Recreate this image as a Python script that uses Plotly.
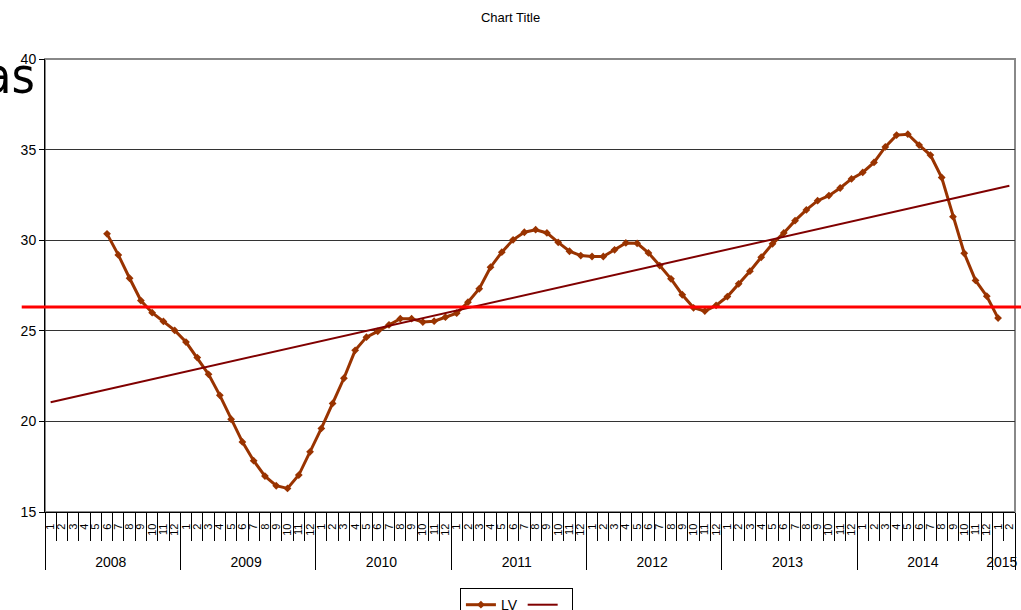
import plotly.graph_objects as go

# ---- data ----
years = ["2008", "2009", "2010", "2011", "2012", "2013", "2014", "2015"]
months_per_year = [12, 12, 12, 12, 12, 12, 12, 2]
month_labels = [str(m) for m in range(1, 13)]

# LV series, monthly from 2008-6 to 2015-1
lv_start = ("2008", "6")
lv_values = [
    30.35, 29.19, 27.90, 26.67, 26.00, 25.52, 25.02,              # 2008 6-12
    24.38, 23.52, 22.60, 21.44, 20.12, 18.87, 17.83, 16.98, 16.45, 16.30, 17.04, 18.32,  # 2009
    19.61, 20.99, 22.38, 23.92, 24.65, 24.97, 25.33, 25.67, 25.67, 25.48, 25.53, 25.75,  # 2010
    25.97, 26.58, 27.32, 28.51, 29.34, 30.02, 30.44, 30.58, 30.40, 29.88, 29.39, 29.15,  # 2011
    29.10, 29.10, 29.47, 29.85, 29.83, 29.30, 28.60, 27.87, 26.99, 26.27, 26.09, 26.40,  # 2012
    26.89, 27.59, 28.29, 29.06, 29.80, 30.40, 31.08, 31.67, 32.18, 32.46, 32.88, 33.38,  # 2013
    33.74, 34.29, 35.15, 35.80, 35.85, 35.25, 34.70, 33.46, 31.30, 29.28, 27.78, 26.91,  # 2014
    25.70,                                                         # 2015 1
]

# linear trend line: values at first and last category
trend_values = [21.06, 33.00]

# horizontal reference level
reference_level = 26.32

# ---- build category axis ----
NB = "\u00a0"
year_disp = {y: f"<span style='font-size:14px'>{y}</span>" for y in years}
month_disp = {m: NB * 3 + m + NB * 2 for m in month_labels}

keys = []
cat_years, cat_months = [], []
for y, n in zip(years, months_per_year):
    for m in month_labels[:n]:
        keys.append((y, m))
        cat_years.append(year_disp[y])
        cat_months.append(month_disp[m])

start_idx = keys.index(lv_start)
lv_full = [None] * len(keys)
for k, v in enumerate(lv_values):
    lv_full[start_idx + k] = v

fig = go.Figure()
fig.add_trace(go.Scatter(
    x=[cat_years, cat_months], y=lv_full, name="LV",
    mode="lines+markers",
    line=dict(color="#993300", width=3),
    marker=dict(symbol="diamond", size=6, color="#993300"),
    connectgaps=False,
))
fig.add_trace(go.Scatter(
    x=[[cat_years[0], cat_years[-1]], [cat_months[0], cat_months[-1]]],
    y=trend_values, name=" ",
    mode="lines",
    line=dict(color="#800000", width=2),
))

fig.add_shape(type="line", xref="paper", yref="y",
              x0=-0.024, x1=1.01, y0=reference_level, y1=reference_level,
              line=dict(color="#FF0000", width=3), layer="above")

fig.add_annotation(text="as", xref="paper", yref="paper",
                   x=-0.008, y=0.963, xanchor="right", yanchor="middle",
                   showarrow=False,
                   font=dict(family="DejaVu Sans Condensed, Liberation Sans Narrow, DejaVu Sans",
                             size=50, color="black"))

fig.update_layout(
    width=1021, height=610,
    paper_bgcolor="white", plot_bgcolor="white",
    margin=dict(l=45, r=6, t=59, b=98, autoexpand=False),
    title=dict(text="Chart Title", x=0.5, xanchor="center", y=0.972, yanchor="middle",
               font=dict(family="Liberation Sans, Arial", size=13, color="black")),
    font=dict(family="Liberation Sans, Arial", color="black"),
    showlegend=True,
    legend=dict(orientation="h", x=0.486, xanchor="center", y=-0.168, yanchor="top",
                bordercolor="black", borderwidth=1, bgcolor="white",
                font=dict(size=14), itemwidth=30),
)

fig.update_yaxes(range=[15, 40], dtick=5, showgrid=True, gridcolor="#333333", gridwidth=1,
                 showline=True, linecolor="black", linewidth=1,
                 ticks="outside", ticklen=5, tickcolor="black",
                 tickfont=dict(size=14), zeroline=False, automargin=False)
fig.update_xaxes(type="multicategory", showgrid=False, range=[-0.5, len(keys) - 0.5],
                 showline=True, linecolor="black", linewidth=1,
                 ticks="outside", ticklen=28, tickcolor="black",
                 tickangle=-90, tickfont=dict(size=11), dtick=1,
                 showdividers=True, dividercolor="black", dividerwidth=1,
                 automargin=False)

# plot-area border on top/right in gray
fig.add_shape(type="rect", xref="paper", yref="paper", x0=0, x1=1, y0=0, y1=1,
              line=dict(color="#888888", width=2), layer="below")

fig.write_html("out.html",
               config={"displayModeBar": False},
               post_script="document.body.style.margin='0';document.body.style.overflow='hidden';")
